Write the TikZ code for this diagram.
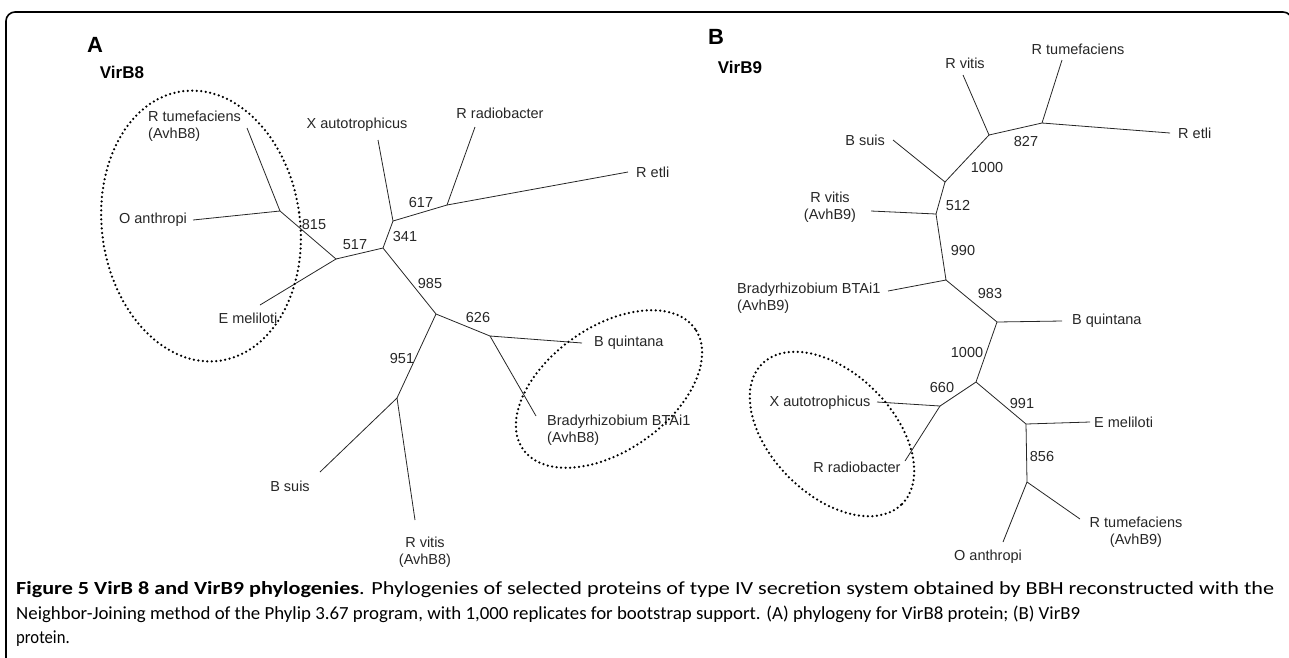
\documentclass[tikz,border=0pt]{standalone}
\usepackage{graphicx}
\usepackage{fontspec}
\setmainfont{Liberation Sans}
\newfontfamily\capfont{Carlito}
\usetikzlibrary{positioning}
\tikzset
{
    taxon/.style  = {font=\fontsize{14.5}{16.5}\selectfont, inner sep=0pt, text=black!85},
    boot/.style   = {font=\fontsize{14.5}{16.5}\selectfont, inner sep=0pt, text=black!85},
    branch/.style = {draw=black!85, line width=0.8pt},
    clade/.style  = {draw=black, line width=2.5pt, line cap=round, dash pattern=on 0pt off 4.5pt},
    panel/.style  = {font=\fontsize{22}{24}\selectfont\bfseries, inner sep=0pt},
    protein/.style = {font=\fontsize{17}{20}\selectfont\bfseries, inner sep=0pt},
    capline/.style = {font=\capfont\fontsize{18.5}{20}\selectfont, inner sep=0pt, anchor=base west}
}

\begin{document}
\begin{tikzpicture}[x=1pt,y=-1pt]
\useasboundingbox (0,0) rectangle (1289,657);
\clip (0,0) rectangle (1289,657);
\draw[line width=1.6pt, rounded corners=9pt] (6,680) -- (6,12) -- (1292,12) -- (1292,80);

% panel A: VirB8
\node[panel] (hA) at (95,45) {A};
\node[protein] (pA) at (122,72) {VirB8};
\coordinate (a1) at (280,211);
\coordinate (a2) at (336,259);
\coordinate (a3) at (383,248);
\coordinate (a4) at (393,221);
\coordinate (a5) at (447,205);
\coordinate (a6) at (436,314);
\coordinate (a7) at (490,336);
\coordinate (a8) at (397,398);
\coordinate (tRtumA) at (247,128);
\coordinate (tOanA) at (193,220);
\coordinate (tEmelA) at (260,305);
\coordinate (tXautA) at (378,140);
\coordinate (tRradA) at (475,127);
\coordinate (tRetlA) at (628,172);
\coordinate (tBquiA) at (582,343);
\coordinate (tBradyA) at (536,416);
\coordinate (tBsuisA) at (320,472);
\coordinate (tRvitA) at (415,520);
\draw[branch] (tRtumA) -- (a1) -- (tOanA);
\draw[branch] (a1) -- (a2) -- (tEmelA);
\draw[branch] (a2) -- (a3) -- (a4) -- (tXautA);
\draw[branch] (a4) -- (a5) -- (tRradA);
\draw[branch] (a5) -- (tRetlA);
\draw[branch] (a3) -- (a6) -- (a7) -- (tBquiA);
\draw[branch] (a7) -- (tBradyA);
\draw[branch] (a6) -- (a8) -- (tBsuisA);
\draw[branch] (a8) -- (tRvitA);
\node[taxon, align=left, anchor=north west] (lRtumA) at (148,111) {R tumefaciens\\(AvhB8)};
\node[taxon, left=6pt of tOanA] (lOanA) {O anthropi};
\node[taxon] (lEmelA) at (248,318) {E meliloti};
\node[taxon] (lXautA) at (357,125) {X autotrophicus};
\node[taxon] (lRradA) at (500,113) {R radiobacter};
\node[taxon, right=8pt of tRetlA] (lRetlA) {R etli};
\node[taxon, right=12pt of tBquiA] (lBquiA) {B quintana};
\node[taxon, align=left, anchor=north west] (lBradyA) at (547,415) {Bradyrhizobium BTAi1\\(AvhB8)};
\node[taxon] (lBsuisA) at (290,486) {B suis};
\node[taxon, align=center, anchor=north] (lRvitA) at (425,537) {R vitis\\(AvhB8)};
\node[boot] (b815) at (314,224) {815};
\node[boot] (b517) at (355,245) {517};
\node[boot] (b341) at (405,237) {341};
\node[boot] (b617) at (421,202) {617};
\node[boot] (b985) at (430,283) {985};
\node[boot] (b626) at (478,317) {626};
\node[boot] (b951) at (402,358) {951};
\draw[clade, rotate around={8:(201,226)}] (201,226) ellipse [x radius=99pt, y radius=136pt];
\draw[clade, rotate around={35:(609,389)}] (609,389) ellipse [x radius=105pt, y radius=62pt];

% panel B: VirB9
\node[panel] (hB) at (716,37) {B};
\node[protein] (pB) at (740,67) {VirB9};
\coordinate (b1) at (989,135);
\coordinate (b2) at (945,182);
\coordinate (b3) at (936,214);
\coordinate (b4) at (946,280);
\coordinate (b5) at (997,322);
\coordinate (b6) at (976,382);
\coordinate (b7) at (940,406);
\coordinate (b8) at (1026,424);
\coordinate (b9) at (1027,482);
\coordinate (bf) at (1042,123);
\coordinate (tRvitB) at (963,75);
\coordinate (tRtumB) at (1062,60);
\coordinate (tRetlB) at (1170,133);
\coordinate (tBsuisB) at (893,140);
\coordinate (tRavhB) at (871,211);
\coordinate (tBradyB) at (888,291);
\coordinate (tBquiB) at (1062,321);
\coordinate (tXautB) at (877,402);
\coordinate (tRradB) at (905,461);
\coordinate (tEmelB) at (1090,422);
\coordinate (tRtavB) at (1080,519);
\coordinate (tOanB) at (1003,542);
\draw[branch] (tRvitB) -- (b1) -- (bf) -- (tRtumB);
\draw[branch] (bf) -- (tRetlB);
\draw[branch] (b1) -- (b2) -- (tBsuisB);
\draw[branch] (b2) -- (b3) -- (tRavhB);
\draw[branch] (b3) -- (b4) -- (tBradyB);
\draw[branch] (b4) -- (b5) -- (tBquiB);
\draw[branch] (b5) -- (b6) -- (b7) -- (tXautB);
\draw[branch] (b7) -- (tRradB);
\draw[branch] (b6) -- (b8) -- (tEmelB);
\draw[branch] (b8) -- (b9) -- (tRtavB);
\draw[branch] (b9) -- (tOanB);
\node[taxon] (lRvitB) at (965,63) {R vitis};
\node[taxon] (lRtumB) at (1078,49) {R tumefaciens};
\node[taxon, right=8pt of tRetlB] (lRetlB) {R etli};
\node[taxon, left=8pt of tBsuisB] (lBsuisB) {B suis};
\node[taxon, align=center] (lRavhB) at (830,207) {R vitis\\(AvhB9)};
\node[taxon, align=left, anchor=north west] (lBradyB) at (737,283) {Bradyrhizobium BTAi1\\(AvhB9)};
\node[taxon, right=10pt of tBquiB] (lBquiB) {B quintana};
\node[taxon] (lXautB) at (820,403) {X autotrophicus};
\node[taxon] (lRradB) at (857,467) {R radiobacter};
\node[taxon, right=4pt of tEmelB] (lEmelB) {E meliloti};
\node[taxon, align=center] (lRtavB) at (1136,532) {R tumefaciens\\(AvhB9)};
\node[taxon] (lOanB) at (988,557) {O anthropi};
\node[boot] (b827) at (1026,142) {827};
\node[boot] (b1000a) at (987,168) {1000};
\node[boot] (b512) at (958,206) {512};
\node[boot] (b990) at (963,250) {990};
\node[boot] (b983) at (990,293) {983};
\node[boot] (b1000b) at (967,352) {1000};
\node[boot] (b660) at (942,387) {660};
\node[boot] (b991) at (1022,403) {991};
\node[boot] (b856) at (1042,456) {856};
\draw[clade, rotate around={-45:(832,434)}] (832,434) ellipse [x radius=99pt, y radius=61pt];

% caption
\node[capline] (cap1) at (16,594) {\resizebox{1258pt}{\height}{\textbf{Figure 5 VirB 8 and VirB9 phylogenies}. Phylogenies of selected proteins of type IV secretion system obtained by BBH reconstructed with the}};
\node[capline] (cap2) at (16,619) {\resizebox{1064pt}{\height}{Neighbor-Joining method of the Phylip 3.67 program, with 1,000 replicates for bootstrap support. (A) phylogeny for VirB8 protein; (B) VirB9}};
\node[capline] (cap3) at (16,643) {\scalebox{0.9}[1]{protein.}};
\end{tikzpicture}
\end{document}
